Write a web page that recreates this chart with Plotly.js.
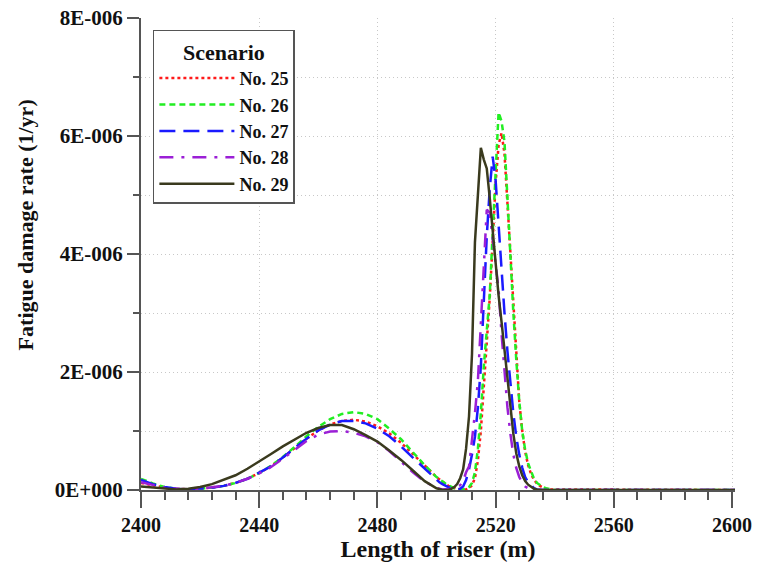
<!DOCTYPE html>
<html>
<head>
<meta charset="utf-8">
<script src="https://cdn.plot.ly/plotly-3.0.1.min.js"></script>
<style>html,body{margin:0;padding:0;background:#fff;}#chart{width:757px;height:568px;}</style>
</head>
<body>
<div id="chart"></div>
<script>
// Length of riser (m)
const lengthM = [
  2400,2404,2408,2412,2416,2420,2424,2428,2432,2436,2440,2444,2448,2452,2456,2460,2464,2468,2472,2476,2480,2484,2488,2492,2496,2500,
  2501,2502,2503,2504,2505,2506,2507,2508,2509,2510,2511,2512,2513,2514,2515,2516,2517,2518,2519,2520,
  2521,2522,2523,2524,2525,2526,2527,2528,2529,2530,2531,2532,2533,2534,2535,2536,2537,2538,2539,2540,
  2550,2560,2570,2580,2590,2600,2601
];
// Fatigue damage rate, in units of 1E-006 1/yr
const no25 = [
  0.12,0.08,0.04,0.02,0.01,0.02,0.04,0.07,0.12,0.19,0.29,0.40,0.55,0.71,0.87,1.01,1.11,1.17,1.19,1.16,1.08,0.96,0.80,0.61,0.41,0.22,
  0.18,0.14,0.10,0.07,0.05,0.03,0.02,0.01,0.01,0.01,0.03,0.08,0.20,0.50,1.00,1.75,2.55,3.25,4.20,5.20,
  5.85,6.05,5.70,4.85,3.85,3.00,2.20,1.50,1.00,0.65,0.42,0.27,0.17,0.11,0.07,0.04,0.02,0.01,0.01,0,
  0,0,0,0,0,0,0
];
const no26 = [
  0.19,0.11,0.05,0.02,0.01,0.02,0.04,0.07,0.12,0.19,0.29,0.41,0.56,0.73,0.91,1.07,1.20,1.29,1.32,1.29,1.20,1.04,0.86,0.64,0.42,0.22,
  0.18,0.14,0.11,0.08,0.05,0.03,0.02,0.01,0.01,0.02,0.05,0.12,0.30,0.70,1.30,2.10,2.70,3.30,4.35,5.45,
  6.40,6.25,5.90,4.95,3.85,3.00,2.20,1.50,1.00,0.68,0.45,0.30,0.19,0.12,0.08,0.05,0.03,0.02,0.01,0,
  0,0,0,0,0,0,0
];
const no27 = [
  0.17,0.10,0.05,0.02,0.01,0.02,0.04,0.07,0.12,0.19,0.29,0.40,0.55,0.71,0.87,1.01,1.11,1.17,1.17,1.13,1.04,0.91,0.74,0.55,0.36,0.17,
  0.13,0.10,0.07,0.05,0.03,0.02,0.01,0.02,0.06,0.17,0.35,0.60,0.90,1.40,2.10,3.20,4.30,5.10,5.65,5.25,
  4.45,3.70,3.00,2.35,1.80,1.30,0.90,0.60,0.38,0.22,0.13,0.07,0.03,0.01,0,0,0,0,0,0,
  0,0,0,0,0,0,0
];
const no28 = [
  0.13,0.08,0.04,0.02,0.01,0.02,0.04,0.07,0.12,0.19,0.28,0.39,0.53,0.68,0.83,0.94,0.99,1.00,0.97,0.91,0.81,0.66,0.48,0.30,0.14,0.04,
  0.02,0.01,0.01,0.01,0.02,0.03,0.05,0.08,0.15,0.30,0.40,0.80,1.30,1.85,2.90,3.95,4.75,4.70,4.30,3.85,
  3.40,2.65,1.95,1.40,0.95,0.60,0.37,0.22,0.12,0.06,0.03,0.01,0,0,0,0,0,0,0,0,
  0,0,0,0,0,0,0
];
const no29 = [
  0.06,0.04,0.02,0.01,0.02,0.05,0.10,0.17,0.25,0.36,0.48,0.61,0.74,0.86,0.97,1.05,1.10,1.10,1.03,0.93,0.82,0.67,0.51,0.33,0.15,0.03,
  0.01,0,0,0,0.02,0.05,0.10,0.20,0.35,0.70,1.25,2.30,4.20,5.10,5.80,5.60,5.45,4.95,4.35,3.80,
  3.30,2.85,2.35,1.85,1.35,0.95,0.62,0.40,0.25,0.15,0.09,0.05,0.02,0.01,0,0,0,0,0,0,
  0,0,0,0,0,0,0
];
const seriesNames = ['No. 25','No. 26','No. 27','No. 28','No. 29'];
const seriesValues = [no25, no26, no27, no28, no29];
const xTickVals = [2400,2440,2480,2520,2560,2600];
const yTickVals = [0,2,4,6,8];
const yTickText = ['0E+000','2E-006','4E-006','6E-006','8E-006'];
const xTitle = 'Length of riser (m)';
const yTitle = 'Fatigue damage rate (1/yr)';
const legendTitle = 'Scenario';

const styles = [
  {color:'#ff1a1a', dash:'dot', width:2.5},
  {color:'#22ee22', dash:'6px,4px', width:2.5},
  {color:'#1a1aff', dash:'16px,8px', width:2.5},
  {color:'#9b1fd6', dash:'14px,8px,3px,8px', width:2.5},
  {color:'#3a3a1e', dash:'solid', width:2.5}
];

const traces = seriesNames.map((n,i)=>({
  x: lengthM, y: seriesValues[i], name: n, type:'scatter', mode:'lines',
  line: styles[i]
}));

const serif = 'Liberation Serif, Times New Roman, serif';
const axisCol = '#555555';
const gridCol = '#c8c8c8';
const layout = {
  width:757, height:568,
  margin:{l:141, r:22, t:18, b:78},
  paper_bgcolor:'#fff', plot_bgcolor:'#fff',
  showlegend:true,
  xaxis:{
    range:[2400,2601], tickmode:'array', tickvals:xTickVals,
    ticks:'outside', ticklen:16, tickwidth:2, tickcolor:axisCol,
    showline:true, linecolor:axisCol, linewidth:2,
    showgrid:true, gridcolor:gridCol, griddash:'1px,3px', gridwidth:1,
    zeroline:false, ticklabeloverflow:'allow',
    minor:{tickmode:'linear', tick0:2400, dtick:8, ticks:'outside', ticklen:8, tickwidth:1.5, tickcolor:axisCol, showgrid:false},
    tickfont:{family:serif, size:20, weight:'bold', color:'#111'},
    title:{text:xTitle, font:{family:serif, size:24, weight:'bold', color:'#111'}, standoff:3}
  },
  yaxis:{
    range:[0,8], tickmode:'array', tickvals:yTickVals, ticktext:yTickText,
    ticks:'outside', ticklen:12, tickwidth:2, tickcolor:axisCol,
    showline:true, linecolor:axisCol, linewidth:2,
    showgrid:true, gridcolor:gridCol, griddash:'1px,3px', gridwidth:1,
    zeroline:false, ticklabeloverflow:'allow',
    minor:{tickmode:'linear', tick0:0, dtick:1, ticks:'outside', ticklen:6, tickwidth:1.5, tickcolor:axisCol, showgrid:true, gridcolor:gridCol, griddash:'1px,3px', gridwidth:1},
    tickfont:{family:serif, size:21, weight:'bold', color:'#111'}
  },
  legend:{
    x:0.02, y:0.975, xanchor:'left', yanchor:'top',
    bgcolor:'#fff', bordercolor:'#555', borderwidth:1.5,
    font:{family:serif, size:18, weight:'bold', color:'#111'},
    title:{text:legendTitle, side:'top center', font:{family:serif, size:22, weight:'bold', color:'#111'}},
    itemwidth:75, tracegroupgap:0
  },
  annotations:[
    {text:yTitle, xref:'paper', yref:'paper', x:-0.195, y:0.561, xanchor:'center', yanchor:'middle',
     textangle:-90, showarrow:false, font:{family:serif, size:22, weight:'bold', color:'#111'}}
  ],
  shapes:[
    {type:'line', xref:'paper', yref:'paper', x0:0, x1:0, y0:0, y1:-0.027, line:{color:axisCol, width:2}}
  ]
};

Plotly.newPlot('chart', traces, layout, {displayModeBar:false});
</script>
</body>
</html>
